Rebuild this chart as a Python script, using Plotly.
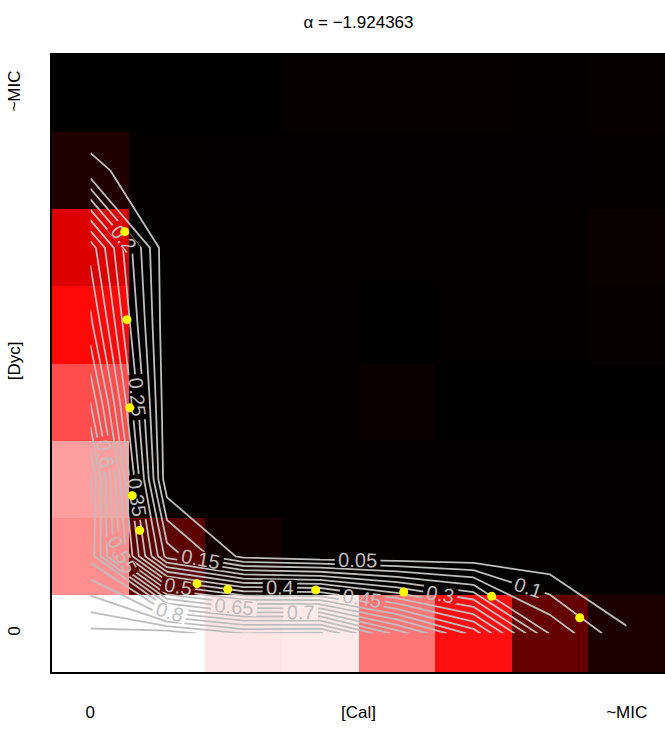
import plotly.graph_objects as go

# grid indices (cells): 0 .. ~MIC
cal_levels = [0, 1, 2, 3, 4, 5, 6, 7]
dyc_levels = [0, 1, 2, 3, 4, 5, 6, 7]

# relative growth, rows = Dyc level (bottom -> top), cols = Cal level
growth_dyc0 = [1.015, 1.03, 0.951, 0.959, 0.731, 0.531, 0.196, 0.055]
growth_dyc1 = [0.78, 0.18, 0.035, 0.01, 0.008, 0.006, 0.005, 0.004]
growth_dyc2 = [0.81, 0.01, 0.01, 0.01, 0.004, 0.004, 0.004, 0.004]
growth_dyc3 = [0.649, 0.006, 0.006, 0.006, 0.02, 0.002, 0.002, 0.002]
growth_dyc4 = [0.516, 0.004, 0.004, 0.004, 0.002, 0.01, 0.01, 0.014]
growth_dyc5 = [0.431, 0.006, 0.005, 0.005, 0.005, 0.005, 0.005, 0.018]
growth_dyc6 = [0.065, 0.008, 0.004, 0.004, 0.004, 0.004, 0.004, 0.008]
growth_dyc7 = [0.0, 0.0, 0.0, 0.014, 0.012, 0.012, 0.01, 0.012]

# isobole points (yellow)
iso_cal = [0.449, 0.479, 0.514, 0.548, 0.645, 1.392, 1.794, 2.941, 4.090, 5.238, 6.387]
iso_dyc = [5.209, 4.068, 2.927, 1.786, 1.337, 0.645, 0.574, 0.563, 0.537, 0.482, 0.204]

tick_vals = [0, 3.5, 7]
x_tick_text = ["0", "[Cal]", "~MIC"]
y_tick_text = ["0", "[Dyc]", "~MIC"]

title_text = "\u03b1 = \u22121.924363"

z = [growth_dyc0, growth_dyc1, growth_dyc2, growth_dyc3,
     growth_dyc4, growth_dyc5, growth_dyc6, growth_dyc7]

FONT = "Liberation Sans, Arial, sans-serif"

fig = go.Figure()
fig.add_trace(go.Heatmap(
    x=cal_levels, y=dyc_levels, z=z,
    colorscale=[[0, "#000000"], [0.5, "#ff0000"], [1, "#ffffff"]],
    zmin=0, zmax=1, showscale=False, hoverinfo="skip",
))
fig.add_trace(go.Contour(
    x=cal_levels, y=dyc_levels, z=z,
    contours=dict(coloring="none", start=0.05, end=1.0, size=0.05,
                  showlabels=True,
                  labelfont=dict(color="#bebebe", size=20, family=FONT)),
    line=dict(color="#bebebe", width=1.8, smoothing=0),
    showscale=False, hoverinfo="skip",
))
fig.add_trace(go.Scatter(
    x=iso_cal, y=iso_dyc, mode="markers",
    marker=dict(color="#ffff00", size=9, line=dict(width=0)),
    hoverinfo="skip", showlegend=False,
))

axis_common = dict(
    range=[-0.5, 7.5], showgrid=False, zeroline=False, automargin=False,
    showline=True, linecolor="black", linewidth=2, mirror=True,
    ticks="", tickvals=tick_vals,
    tickfont=dict(size=17, color="black", family=FONT),
)
fig.update_layout(
    width=665, height=730,
    margin=dict(l=52, r=0, t=55, b=58, autoexpand=False),
    paper_bgcolor="white", plot_bgcolor="white",
    showlegend=False,
    xaxis=dict(**axis_common, ticktext=x_tick_text, ticklabelstandoff=24),
    yaxis=dict(**axis_common, ticktext=y_tick_text, tickangle=-90,
               ticklabelstandoff=23),
    title=dict(text=title_text, x=0.5, xref="paper", xanchor="center",
               y=1 - 22 / 730, yref="container", yanchor="middle",
               font=dict(size=17, color="black", family=FONT)),
)

fig.write_html(
    "out.html",
    config={"displayModeBar": False},
    post_script="document.body.style.margin='0';"
                "document.body.style.overflow='hidden';",
)
